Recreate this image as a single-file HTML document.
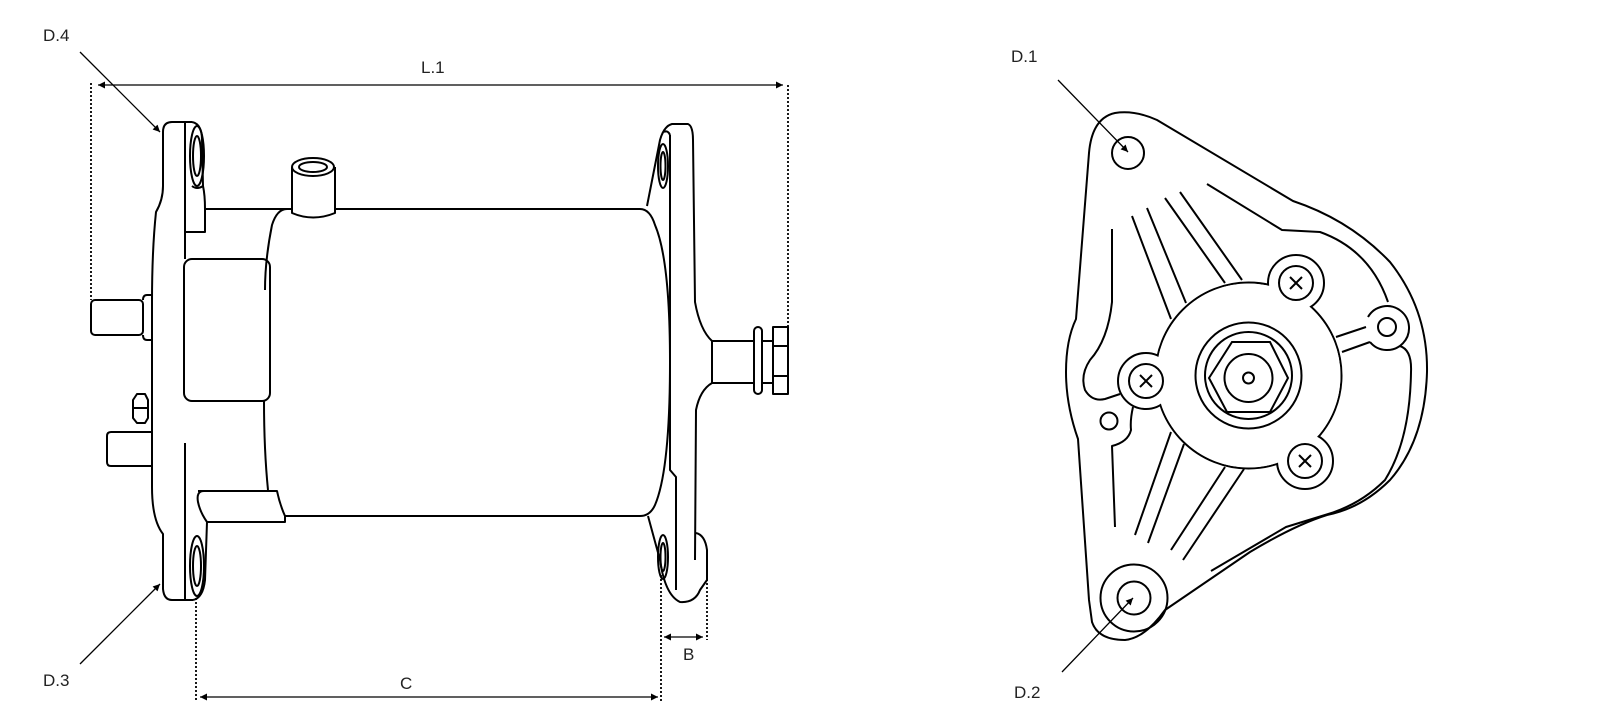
<!DOCTYPE html>
<html><head><meta charset="utf-8"><style>
html,body{margin:0;padding:0;background:#fff;}
svg{display:block;}
text{font-family:"Liberation Sans",sans-serif;font-size:17px;fill:#222;}
</style></head><body>
<svg width="1609" height="724" viewBox="0 0 1609 724" xmlns="http://www.w3.org/2000/svg">
<defs>
<marker id="ar" viewBox="0 0 10 10" refX="10" refY="5" markerWidth="9" markerHeight="7" orient="auto-start-reverse" markerUnits="userSpaceOnUse"><path d="M0,0 L10,5 L0,10 z" fill="#000"/></marker>
</defs>
<g fill="none" stroke="#000" stroke-width="1.3">
<line x1="98" y1="85" x2="783" y2="85" marker-start="url(#ar)" marker-end="url(#ar)"/>
<line x1="91" y1="83" x2="91" y2="300" stroke-dasharray="2,2" stroke-width="1.8"/>
<line x1="788" y1="85" x2="788" y2="327" stroke-dasharray="2,2" stroke-width="1.8"/>
<line x1="80" y1="52" x2="160" y2="132" marker-end="url(#ar)"/>
<line x1="80" y1="664" x2="160" y2="584" marker-end="url(#ar)"/>
<line x1="200" y1="697" x2="658" y2="697" marker-start="url(#ar)" marker-end="url(#ar)"/>
<line x1="196" y1="598" x2="196" y2="702" stroke-dasharray="2,2" stroke-width="1.8"/>
<line x1="661" y1="575" x2="661" y2="702" stroke-dasharray="2,2" stroke-width="1.8"/>
<line x1="664" y1="637" x2="703" y2="637" marker-start="url(#ar)" marker-end="url(#ar)"/>
<line x1="707" y1="575" x2="707" y2="640" stroke-dasharray="2,2" stroke-width="1.8"/>
<line x1="1058" y1="80" x2="1128" y2="152" marker-end="url(#ar)"/>
<line x1="1062" y1="672" x2="1133" y2="598" marker-end="url(#ar)"/>
</g>

<g fill="none" stroke="#000" stroke-width="2" stroke-linejoin="round">
<path d="M192,122 L172,122 Q163,122 163,132 L163,186 Q163,200 156,212 Q152,250 152,302 L152,487 Q152,520 163,534 L163,589 Q164,600 172,600 L193,600"/>
<path d="M192,122 Q202,124 202,140 L203,186 Q205,195 205,209 L205,232 L185,232 L185,122"/>
<ellipse cx="197" cy="156" rx="7" ry="30"/>
<ellipse cx="197" cy="156" rx="4" ry="20"/>
<path d="M192,186 Q197,190 203,186"/>
<ellipse cx="197" cy="566" rx="7" ry="30"/>
<ellipse cx="197" cy="566" rx="4" ry="20"/>
<path d="M193,600 Q203,598 205,580 L207,522"/>
<line x1="185" y1="232" x2="185" y2="259"/>
<line x1="185" y1="443" x2="185" y2="599"/>
<rect x="91" y="300" width="52" height="35" rx="4"/>
<path d="M143,300 Q143,295 147,295 L152,295 L152,340 L147,340 Q143,340 143,335"/>
<path d="M133,400 L137,394 L145,394 L148,400 L148,418 L145,423 L137,423 L133,418 Z"/>
<line x1="133" y1="408" x2="148" y2="408"/>
<path d="M152,432 L111,432 Q107,432 107,436 L107,462 Q107,466 111,466 L152,466"/>
<path d="M205,209 L640,209 Q650,209 655,225 Q670,260 670,362 Q670,470 655,505 Q650,516 640,516 L285,516"/>
<path d="M287,209 Q277,209 272,225 Q265,260 265,290"/>
<path d="M264,401 Q264,450 268,490"/>
<rect x="184" y="259" width="86" height="142" rx="8"/>
<path d="M292,167 L292,213 Q313,222 335,213 L335,167" fill="#fff"/>
<ellipse cx="313" cy="167" rx="21" ry="9" fill="#fff"/>
<ellipse cx="313" cy="167" rx="14" ry="5"/>
<path d="M198,491 L277,491 Q280,505 285,516 L285,522 L207,522 Q200,512 198,502 Q196,491 204,491"/>
<path d="M647,206 L660,140 Q664,126 672,124 L688,124 Q693,126 693,140 L695,302 Q700,330 712,341"/>
<path d="M712,383 Q700,390 696,410 L695,560"/>
<path d="M670,135 L670,470 L676,477 L676,590"/>
<path d="M648,516 L660,560 Q665,595 680,602 Q695,603 700,590 L707,580 L707,550 Q705,535 696,533"/>
<path d="M670,135 Q668,130 664,132"/>
<ellipse cx="663" cy="166" rx="5" ry="22"/>
<ellipse cx="663" cy="166" rx="2.5" ry="14"/>
<ellipse cx="663" cy="557" rx="5" ry="22"/>
<ellipse cx="663" cy="557" rx="2.5" ry="14"/>
<path d="M712,341 L754,341 M712,383 L754,383 M712,341 L712,383"/>
<rect x="754" y="327" width="8" height="67" rx="4"/>
<path d="M762,341 L773,341 M762,383 L773,383"/>
<rect x="773" y="327" width="15" height="67"/>
<line x1="773" y1="346" x2="788" y2="346"/>
<line x1="773" y1="376" x2="788" y2="376"/>
</g>

<g fill="none" stroke="#000" stroke-width="2" stroke-linejoin="round">
<path d="M1089,153 Q1092,118 1115,113 Q1135,110 1157,120 L1293,201 Q1350,220 1390,262 Q1428,310 1427,372 Q1425,440 1390,480 Q1362,508 1327,515 Q1295,525 1250,552 L1165,610 Q1145,638 1125,640 Q1098,640 1092,622 L1089,600 L1078,439 Q1066,405 1066,372 Q1066,340 1076,319 Z"/>
<circle cx="1128" cy="153" r="16"/>
<circle cx="1134" cy="598" r="33.5"/>
<circle cx="1134" cy="598" r="16.5"/>
<circle cx="1109" cy="421" r="8.5"/>
<path d="M1132,216 L1171,319 M1147,208 L1186,303 M1165,198 L1225,283 M1180,192 L1242,280"/>
<path d="M1135,535 L1171,432 M1148,543 L1184,444 M1171,550 L1225,467 M1183,560 L1244,469"/>
<path d="M1336,337 L1366,327 M1342,352 L1370,342"/>
<path d="M1207,184 L1282,230 L1320,232 Q1370,250 1388,302"/>
<path d="M1386,343 L1400,346 Q1412,350 1411,372 Q1410,440 1385,480 Q1360,505 1325,515 L1286,527 L1211,571"/>
<path d="M1112,229 L1112,302 Q1108,340 1090,360 Q1080,375 1085,390 Q1092,402 1105,399 L1120,394"/>
<path d="M1133,407 Q1130,420 1131,430 Q1128,442 1112,446 L1115,527"/>
<circle cx="1248.5" cy="375.5" r="93"/>
<circle cx="1296" cy="283" r="28" fill="#fff"/>
<circle cx="1146" cy="381" r="28" fill="#fff"/>
<circle cx="1305" cy="461" r="28" fill="#fff"/>
<path d="M1368,317 A22,22 0 1 1 1370,342" fill="#fff"/>
</g>
<circle cx="1248.5" cy="375.5" r="92" fill="#fff"/>
<g fill="none" stroke="#000" stroke-width="2">
<circle cx="1387" cy="327" r="9"/>
<circle cx="1296" cy="283" r="17"/>
<circle cx="1146" cy="381" r="17"/>
<circle cx="1305" cy="461" r="17"/>
<path d="M1290,277 L1302,289 M1302,277 L1290,289"/>
<path d="M1140,375 L1152,387 M1152,375 L1140,387"/>
<path d="M1299,455 L1311,467 M1311,455 L1299,467"/>
<circle cx="1248.5" cy="375.5" r="53"/>
<circle cx="1248.5" cy="375.5" r="43.5"/>
<path d="M1232,342 L1270,342 L1288,378 L1270,412 L1227,412 L1209,378 Z"/>
<circle cx="1248.5" cy="378" r="24"/>
<circle cx="1248.5" cy="378" r="5.5"/>
</g>

<text x="43" y="41">D.4</text>
<text x="43" y="686">D.3</text>
<text x="421" y="73">L.1</text>
<text x="400" y="689">C</text>
<text x="683" y="660">B</text>
<text x="1011" y="62">D.1</text>
<text x="1014" y="698">D.2</text>
</svg>
</body></html>
